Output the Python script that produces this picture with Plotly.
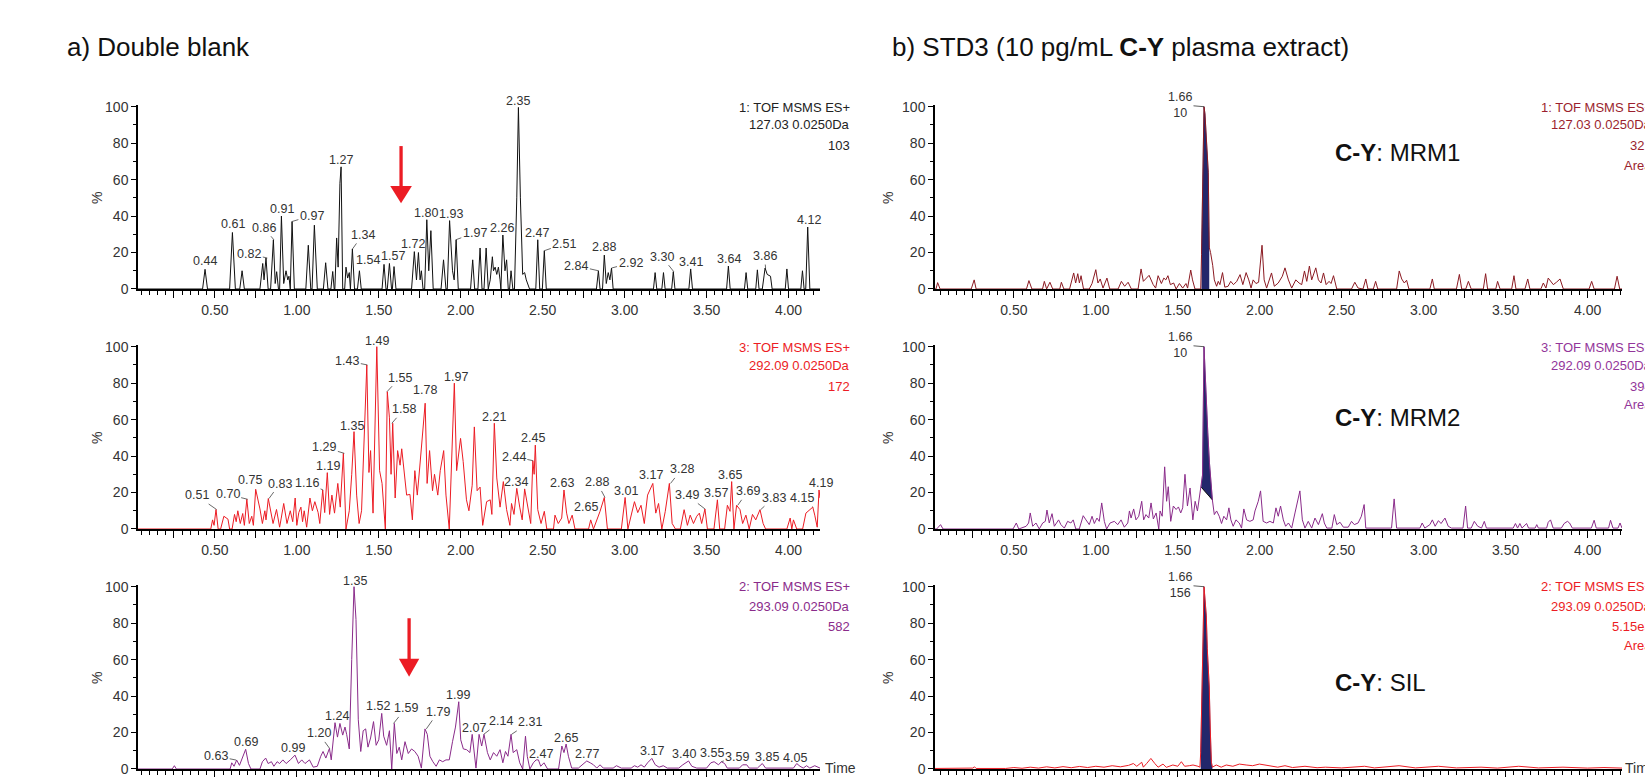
import plotly.graph_objects as go

W, H = 1645, 777

# ---------------- data (time [min], intensity [%]) ----------------
a1_pts = [(0.031,0),(0.425,0),(0.44,10.8),(0.455,0),(0.59,0),(0.607,31),(0.625,0),(0.652,0),(0.666,10),(0.68,0),
 (0.775,0),(0.792,14),(0.80,5),(0.812,17),(0.825,0),(0.84,0),(0.857,27),(0.868,3),(0.877,9.5),(0.888,0),(0.895,0),
 (0.906,40),(0.92,3),(0.934,10),(0.945,5),(0.952,7),(0.96,0),(0.971,37),(0.985,0),(1.055,0),(1.07,24),(1.085,0),
 (1.093,0),(1.107,35),(1.125,0),(1.162,0),(1.176,14.4),(1.19,0),(1.208,0),(1.219,9.6),(1.228,0),(1.232,0),(1.243,28),
 (1.252,12),(1.263,58),(1.27,67),(1.28,0),(1.292,0),(1.30,12),(1.31,6),(1.32,9),(1.327,0),(1.339,22),(1.352,0),
 (1.37,0),(1.382,10),(1.393,0),(1.52,0),(1.532,13.5),(1.544,0),(1.552,0),(1.565,14),(1.578,0),(1.583,0),(1.593,12.3),
 (1.605,0),(1.70,0),(1.717,20.5),(1.73,5),(1.742,20),(1.752,5),(1.76,10),(1.77,0),(1.78,0),(1.793,38),(1.805,10),
 (1.818,32),(1.832,0),(1.88,0),(1.895,16),(1.91,0),(1.918,0),(1.932,37.5),(1.95,10),(1.96,5),(1.972,27),(1.985,0),
 (2.06,0),(2.073,16),(2.085,0),(2.105,0),(2.118,22.5),(2.13,0),(2.142,0),(2.155,22.5),(2.168,0),(2.18,5),(2.193,17.7),
 (2.20,10),(2.21,12),(2.22,8),(2.23,12),(2.24,5),(2.245,0),(2.257,29.6),(2.27,10),(2.28,16),(2.29,0),(2.298,0),
 (2.307,10),(2.318,0),(2.328,0),(2.342,50),(2.352,99.6),(2.364,50),(2.378,8),(2.39,9),(2.40,5),(2.42,0),(2.458,0),
 (2.47,27),(2.482,0),(2.498,0),(2.51,21),(2.522,0),(2.828,0),(2.84,10),(2.85,0),(2.865,0),(2.876,18.6),(2.888,3),
 (2.90,9),(2.91,5),(2.92,11.5),(2.93,0),(3.176,0),(3.186,9),(3.196,0),(3.227,0),(3.237,9),(3.247,0),(3.287,0),
 (3.297,9.5),(3.307,0),(3.392,0),(3.403,11),(3.414,0),(3.622,0),(3.633,12.6),(3.644,0),(3.731,0),(3.741,9),(3.751,0),
 (3.80,0),(3.81,10.5),(3.82,0),(3.84,0),(3.857,11.5),(3.87,8),(3.89,7),(3.90,0),(3.98,0),(3.99,11),(4.00,0),
 (4.075,0),(4.085,10),(4.095,0),(4.105,0),(4.117,34),(4.13,0),(4.192,0)]

a3_pts = [(0.031,0),(0.475,0),(0.486,5),(0.495,2),(0.507,10.7),(0.52,0),(0.535,0),(0.555,7),(0.58,5.4),(0.59,0),
 (0.605,0),(0.62,8),(0.63,4),(0.64,10),(0.655,3),(0.67,8.5),(0.68,2),(0.695,16.3),(0.71,3),(0.725,7),(0.735,2),
 (0.749,21.8),(0.775,11),(0.79,3),(0.805,10),(0.812,5),(0.826,16.7),(0.845,7.6),(0.855,3),(0.876,10.7),(0.895,1),
 (0.905,6),(0.92,14),(0.94,3),(0.96,10),(0.975,4),(0.99,17),(1.0,2),(1.012,9),(1.025,12),(1.035,4),(1.045,10),
 (1.06,1),(1.08,17),(1.095,10),(1.11,15),(1.13,9),(1.14,3),(1.158,21.4),(1.17,9),(1.186,30.9),(1.20,8),(1.214,18.6),
 (1.23,8.7),(1.25,25),(1.265,12),(1.284,41.5),(1.30,0),(1.32,10),(1.335,30),(1.349,53.4),(1.365,18.6),(1.38,3),
 (1.395,10),(1.41,48),(1.427,90),(1.44,31),(1.45,43),(1.465,8.7),(1.488,100),(1.505,32),(1.52,25),(1.54,0),
 (1.552,75.3),(1.565,61),(1.575,30),(1.585,58),(1.60,17),(1.615,43),(1.63,35),(1.64,44),(1.655,32),(1.67,18.6),
 (1.69,19),(1.705,5),(1.72,32),(1.735,18.6),(1.75,34),(1.768,54),(1.783,69),(1.795,25),(1.81,43),(1.828,21),
 (1.84,30),(1.86,18.6),(1.875,32),(1.896,43),(1.91,18.6),(1.93,0),(1.961,80),(1.975,32),(1.999,49.7),(2.015,37),
 (2.035,16),(2.05,10),(2.07,24),(2.083,56),(2.10,21),(2.118,23),(2.134,2),(2.158,15),(2.18,16),(2.19,8),(2.205,58),
 (2.22,28),(2.24,12),(2.26,26),(2.28,10.6),(2.30,2),(2.31,14),(2.325,8),(2.342,22.3),(2.36,12),(2.375,5),(2.39,22),
 (2.41,10.6),(2.427,3),(2.44,37.5),(2.448,30),(2.455,46),(2.47,10.6),(2.49,3),(2.51,9.7),(2.525,0),(2.566,0),
 (2.575,7.6),(2.595,3),(2.616,6),(2.63,21.4),(2.646,8.7),(2.66,3),(2.68,7.6),(2.697,0),(2.78,0),(2.793,5),(2.81,0),
 (2.833,5),(2.85,9.7),(2.876,17.3),(2.895,0),(2.98,0),(3.003,17.3),(3.02,0),(3.04,7.6),(3.06,15),(3.08,9),(3.10,13),
 (3.12,3),(3.14,18.6),(3.172,25),(3.19,8.7),(3.207,14),(3.227,0),(3.248,9.7),(3.273,25),(3.29,3),(3.31,0),(3.34,0),
 (3.363,10.6),(3.383,2),(3.40,7.6),(3.42,3),(3.44,7),(3.456,8.7),(3.47,3),(3.49,11),(3.505,0),(3.545,0),(3.566,16),
 (3.58,0),(3.61,0),(3.627,13),(3.643,9.7),(3.653,26),(3.667,0),(3.683,13),(3.704,10.6),(3.72,3),(3.74,7.6),(3.76,0),
 (3.78,8),(3.80,5),(3.826,10.6),(3.845,3),(3.86,0),(3.99,0),(4.01,6),(4.02,0),(4.03,5),(4.05,0),(4.086,0),
 (4.106,8.7),(4.127,10.6),(4.148,12),(4.16,7.6),(4.175,1),(4.186,21.4),(4.192,17)]

a2_pts = [(0.031,0),(0.24,0),(0.253,1.8),(0.265,0),(0.593,0),(0.603,3.4),(0.617,1.5),(0.633,4.9),(0.65,2),(0.668,6),
 (0.688,10.8),(0.705,3),(0.72,0),(0.775,0),(0.79,4),(0.81,6),(0.825,3),(0.845,4),(0.86,1.5),(0.88,4),(0.895,3),
 (0.915,5),(0.935,3),(0.96,5),(0.989,7.6),(1.01,3),(1.03,5),(1.05,3),(1.077,5),(1.10,1),(1.125,1.5),(1.146,7),
 (1.16,9.6),(1.177,6),(1.199,11.3),(1.21,5),(1.233,25.4),(1.248,17.5),(1.263,25),(1.28,18.6),(1.294,23),(1.304,19),
 (1.32,11),(1.335,60),(1.349,100),(1.361,82),(1.375,27),(1.39,9.6),(1.405,21),(1.42,22),(1.434,12),(1.45,17),
 (1.468,26),(1.484,13),(1.50,16),(1.518,30.5),(1.53,18),(1.548,13),(1.565,21),(1.579,0),(1.595,25),(1.61,8.5),
 (1.625,12),(1.64,5),(1.66,15),(1.68,8.5),(1.70,11),(1.72,9.6),(1.74,7),(1.76,0.5),(1.782,22),(1.796,19),(1.812,7),
 (1.83,4),(1.85,1.5),(1.87,5),(1.89,4),(1.91,5),(1.93,5),(1.95,15),(1.968,23),(1.988,36.9),(2.0,16),(2.016,11),
 (2.036,10.6),(2.056,9),(2.07,19),(2.093,0.5),(2.112,19),(2.128,12.6),(2.142,19),(2.163,9),(2.18,5),(2.20,9),
 (2.22,7),(2.24,10.6),(2.257,3.4),(2.273,9.6),(2.288,7),(2.307,19),(2.32,9),(2.342,10.6),(2.36,3.4),(2.378,0),
 (2.395,18),(2.406,7),(2.422,0),(2.443,3.4),(2.46,5),(2.474,5),(2.488,1.5),(2.508,3.4),(2.53,0),(2.597,0),
 (2.617,12.6),(2.63,9),(2.643,13.7),(2.657,7),(2.677,0.5),(2.718,0.5),(2.744,2.3),(2.769,4.4),(2.79,3.4),(2.81,2.3),
 (2.83,0.5),(2.85,2.3),(2.87,0.5),(2.93,0.5),(2.95,1.8),(2.98,0.5),(3.04,0.5),(3.06,1.8),(3.08,1),(3.10,2.3),
 (3.12,1),(3.14,3.4),(3.166,5.8),(3.187,2.3),(3.21,1),(3.236,1.8),(3.26,0.5),(3.33,0.5),(3.355,2.3),(3.39,4.4),
 (3.41,1.5),(3.44,0.5),(3.50,0.5),(3.526,3.4),(3.546,4),(3.573,2.3),(3.59,4),(3.61,3),(3.626,0.5),(3.70,0.5),
 (3.72,2.3),(3.745,2.3),(3.76,0.5),(3.81,0.5),(3.84,3),(3.86,0.5),(4.03,0.5),(4.05,3),(4.07,1.5),(4.09,0.5),
 (4.11,1.8),(4.13,0.5),(4.16,1.8),(4.192,0.5)]

b1_pts = [(0.019,0),(0.025,0),(0.035,3.5),(0.05,0),(0.24,0),(0.258,5),(0.27,0),(0.577,0),(0.592,4.6),(0.61,0),
 (0.675,0),(0.686,4.2),(0.70,0),(0.72,3.7),(0.737,0),(0.78,0),(0.79,3.7),(0.805,0),(0.84,0),(0.865,8.8),(0.877,3.3),
 (0.89,8.4),(0.90,3.3),(0.91,7.3),(0.925,0),(0.96,0),(0.977,3),(1.0,10.6),(1.013,3.3),(1.027,5.5),(1.044,0.5),
 (1.068,6),(1.085,0),(1.136,0),(1.156,4.2),(1.176,1.5),(1.197,3.7),(1.217,0),(1.258,0),(1.276,11),(1.29,4.2),
 (1.325,7.5),(1.35,2.4),(1.365,0.5),(1.38,7.3),(1.40,3),(1.415,6),(1.427,5),(1.44,7.3),(1.455,2.4),(1.475,3.3),
 (1.49,0),(1.51,3),(1.53,0.5),(1.55,3),(1.56,0.5),(1.579,10.4),(1.59,5),(1.605,0),(1.64,0),(1.645,19),(1.652,67),
 (1.66,100),(1.666,96),(1.672,88),(1.68,76),(1.686,64),(1.692,23),(1.70,20),(1.713,13),(1.723,5),(1.737,1.5),
 (1.747,4.2),(1.757,2.4),(1.773,9),(1.787,1),(1.807,1.5),(1.823,4.2),(1.84,2.4),(1.86,4.2),(1.88,7.9),(1.897,2.4),
 (1.917,9),(1.933,5),(1.947,0.5),(1.96,5),(1.977,3),(1.993,3.7),(2.014,24),(2.027,5),(2.042,0.5),(2.072,8.8),
 (2.089,1.5),(2.113,3.3),(2.138,7),(2.154,11.6),(2.175,5),(2.195,0.5),(2.22,5),(2.24,3.3),(2.256,2.4),(2.273,9.9),
 (2.287,4.2),(2.303,12.6),(2.317,5),(2.342,11.6),(2.358,5),(2.374,3.3),(2.389,8.8),(2.405,2.4),(2.423,4.2),(2.435,3),
 (2.45,7.3),(2.47,0),(2.56,0),(2.58,3.7),(2.60,0.5),(2.63,0),(2.647,5.5),(2.66,0),(2.693,0),(2.707,4.2),(2.72,0),
 (2.835,0),(2.851,9.9),(2.866,5.5),(2.882,3.3),(2.896,4.8),(2.91,0),(3.038,0),(3.053,5.5),(3.065,0),(3.20,0),
 (3.218,8),(3.232,0),(3.257,0),(3.273,4.2),(3.29,0),(3.364,0),(3.378,8.4),(3.39,0),(3.44,0),(3.451,4.2),(3.466,0),
 (3.537,0),(3.551,7.3),(3.563,0),(3.618,0),(3.635,5.5),(3.648,0),(3.715,0),(3.73,3.3),(3.746,0.5),(3.76,6),
 (3.777,4.2),(3.791,2.4),(3.81,3.7),(3.832,5.5),(3.852,0),(4.009,0),(4.025,4.2),(4.04,0),(4.164,0),(4.18,7),
 (4.196,0),(4.21,0)]

b3_pts = [(0.019,0),(0.029,0),(0.053,2.4),(0.068,0),(0.495,0),(0.515,3.3),(0.53,0),(0.575,1.5),(0.59,3.3),(0.60,8.8),
 (0.615,1.5),(0.635,3.3),(0.655,0),(0.676,3.3),(0.692,4.2),(0.702,10.4),(0.716,3.3),(0.733,8.4),(0.747,1.5),
 (0.773,5),(0.787,2.4),(0.808,0.5),(0.828,4.2),(0.848,3.3),(0.862,5),(0.878,0),(0.899,0),(0.923,7.3),(0.94,5),
 (0.96,2.4),(0.977,7),(0.991,3),(1.007,6),(1.021,4.2),(1.036,14.3),(1.052,4.2),(1.066,0),(1.087,3.3),(1.113,4.2),
 (1.134,2.4),(1.154,5),(1.174,1),(1.195,3.3),(1.205,9.9),(1.215,6),(1.231,11),(1.245,5),(1.262,7),(1.28,15.2),
 (1.292,5),(1.306,7.9),(1.323,6),(1.337,14.3),(1.351,5.5),(1.368,8.8),(1.384,0),(1.392,9.9),(1.405,7),(1.42,34.1),
 (1.432,15.2),(1.442,23.2),(1.457,4.2),(1.473,12.6),(1.49,10.7),(1.504,12.1),(1.518,8.8),(1.53,11.6),(1.544,30),
 (1.559,12.6),(1.575,22.5),(1.592,5),(1.606,15.2),(1.62,9.9),(1.633,18.6),(1.643,23),(1.651,29.6),(1.66,100),
 (1.665,88),(1.673,69),(1.683,53),(1.693,36.6),(1.703,21.9),(1.711,16),(1.723,7.9),(1.737,9.9),(1.753,7),(1.767,3),
 (1.781,7),(1.798,5),(1.812,11.6),(1.824,5),(1.838,1.5),(1.855,5),(1.875,3.3),(1.889,0.5),(1.903,11),(1.92,5),
 (1.94,4.2),(1.96,5),(1.971,9.9),(1.991,15.2),(2.005,20.9),(2.021,4.2),(2.042,3.3),(2.062,4.2),(2.083,3.3),
 (2.099,11.6),(2.113,7),(2.127,12.6),(2.144,5),(2.158,1.5),(2.175,3.3),(2.195,0.5),(2.215,8.8),(2.231,16),
 (2.245,20.9),(2.26,5),(2.276,0.5),(2.296,4.2),(2.317,0.5),(2.337,6),(2.358,2.4),(2.382,8.4),(2.394,3.3),
 (2.409,0.5),(2.44,0.5),(2.455,7.9),(2.47,2.4),(2.49,3.7),(2.51,1),(2.54,1),(2.56,4.2),(2.577,2.4),(2.60,3.3),
 (2.62,7),(2.637,13.4),(2.647,0.5),(2.804,0.5),(2.82,16.5),(2.835,0.5),(2.977,0.5),(2.991,3.3),(3.007,0.5),
 (3.038,2.4),(3.053,5),(3.07,1.5),(3.09,4.6),(3.106,3),(3.13,6),(3.15,1.5),(3.17,0.5),(3.24,0.5),(3.256,12.6),
 (3.268,0.5),(3.29,0.5),(3.309,4.2),(3.33,1.5),(3.353,0.5),(3.37,4.2),(3.383,0.5),(3.546,0.5),(3.56,3),(3.573,0.5),
 (3.587,3),(3.60,0.5),(3.628,3),(3.64,0.5),(3.68,0.5),(3.69,2.4),(3.70,0.5),(3.75,0.5),(3.76,3.7),(3.774,5),
 (3.79,0.5),(3.84,0.5),(3.857,3),(3.877,4.2),(3.89,3.3),(3.907,0.5),(4.023,0.5),(4.04,4.8),(4.053,0.5),(4.128,0.5),
 (4.14,4.8),(4.155,0.5),(4.186,0.5),(4.198,3.3),(4.21,0.5)]
b3_drop_baseline = [(1.643,23),(1.711,16)]

b2_pts = [(0.019,0.3),(0.10,0.3),(0.25,0.5),(0.26,1.2),(0.27,0.3),(0.45,0.3),(0.50,0.8),(0.55,0.4),(0.60,1.0),
 (0.65,0.5),(0.70,1.2),(0.75,0.6),(0.80,1.3),(0.85,0.7),(0.90,1.4),(0.95,0.8),(1.0,1.5),(1.05,1.0),(1.10,1.8),
 (1.15,1.2),(1.20,2.0),(1.229,3),(1.25,1.5),(1.28,3.7),(1.29,1),(1.31,3),(1.336,5.8),(1.36,3),(1.38,1),(1.41,2.7),
 (1.43,0.9),(1.47,2.2),(1.50,1.5),(1.522,4),(1.542,1.5),(1.57,1.8),(1.593,2.2),(1.623,1.5),(1.635,1),(1.64,9.3),
 (1.647,33),(1.655,75),(1.66,100),(1.666,94),(1.674,84),(1.68,66),(1.686,55),(1.692,45),(1.698,22.5),(1.705,3.7),
 (1.711,1),(1.735,2.2),(1.765,1),(1.796,2.2),(1.836,1.5),(1.876,2.7),(1.917,2.2),(1.957,1.8),(1.998,2.7),(2.04,2.2),
 (2.07,1.8),(2.11,1.0),(2.154,1.8),(2.20,0.8),(2.276,1.5),(2.35,0.7),(2.40,1.0),(2.50,0.6),(2.64,1.5),(2.70,0.6),
 (2.85,1.8),(2.95,0.6),(3.09,1.5),(3.20,0.6),(3.35,1.0),(3.45,0.5),(3.58,1.5),(3.70,0.6),(3.85,1.0),(4.00,0.5),
 (4.10,0.8),(4.21,0.5)]

# integrated-peak windows (min)
b1_area_window = (1.644, 1.692)
b3_area_window = (1.643, 1.711)
b2_area_window = (1.638, 1.711)

# peak labels: (text, apex %, dx px, dy px, leader line)
a1_labels = [("0.44",10.8,0,-8,False),("0.61",31,0,-8,False),("0.82",17,-18,-4,True),("0.86",27,-10,-12,True),
 ("0.91",40,0,-7,False),("0.97",37,20,-6,True),("1.27",67,0,-7,False),("1.34",22,10,-14,True),("1.54",13.5,-17,-4,False),
 ("1.57",14,3,-7,False),("1.72",20.5,-2,-8,False),("1.80",38,-2,-7,False),("1.93",37.5,2,-7,False),("1.97",27,19,-7,True),
 ("2.26",29.6,-1,-7,False),("2.35",99.6,0,-6,False),("2.47",27,-1,-7,False),("2.51",21,20,-7,True),("2.84",10,-22,-5,True),
 ("2.88",18.6,-1,-8,False),("2.92",11.5,19,-5,True),("3.30",9.5,-12,-15,True),("3.41",11,-1,-7,False),("3.64",12.6,-1,-7,False),
 ("3.86",11.5,-1,-12,True),("4.12",34,1,-7,False)]
a3_labels = [("0.51",10.7,-20,-14,True),("0.70",16.3,-20,-5,True),("0.75",21.8,-6,-9,False),("0.83",16.7,11,-15,True),
 ("1.16",21.4,-16,-7,True),("1.19",30.9,0,-7,False),("1.29",41.5,-20,-6,True),("1.35",53.4,-2,-6,False),("1.43",90,-20,-4,True),
 ("1.49",100,0,-6,False),("1.55",75.3,13,-14,True),("1.58",58,12,-14,True),("1.78",69,0,-13,False),("1.97",80,0,-6,False),
 ("2.21",58,-1,-6,False),("2.34",22.3,0,-6,False),("2.44",37.5,-19,-4,True),("2.45",46,-1,-7,False),("2.63",21.4,-2,-7,False),
 ("2.65",8.7,19,-6,False),("2.88",17.3,-8,-15,True),("3.01",17.3,0,-6,False),("3.17",25,-1,-8,False),("3.28",25,11,-14,True),
 ("3.49",11,-18,-14,True),("3.57",16,-2,-7,False),("3.65",26,-1,-7,False),("3.69",13,10,-14,True),("3.83",10.6,13,-12,True),
 ("4.15",12,-11,-9,True),("4.19",21.4,1,-7,False)]
a2_labels = [("0.63",4.9,-20,-4,True),("0.69",10.8,0,-7,False),("0.99",7.6,-2,-7,False),("1.20",11.3,-11,-15,True),
 ("1.24",25.4,1,-7,False),("1.35",100,1,-6,False),("1.52",30.5,-4,-7,False),("1.59",25,12,-15,True),("1.79",22,12,-17,True),
 ("1.99",36.9,-1,-7,False),("2.07",19,2,-6,False),("2.14",19,17,-13,True),("2.31",19,18,-12,True),("2.47",5,3,-6,False),
 ("2.65",13.7,-1,-6,False),("2.77",4.4,0,-7,False),("3.17",5.8,0,-7,False),("3.40",4.4,-6,-7,False),("3.55",4,-3,-9,False),
 ("3.59",4,16,-5,True),("3.85",3,3,-7,False),("4.05",3,-2,-6,False)]
b_apex = [("1.66", "10", 100), ("1.66", "10", 100), ("1.66", "156", 100)]

info_lines = {
    "a1": ["1: TOF MSMS ES+", "127.03 0.0250Da", "103"],
    "a3": ["3: TOF MSMS ES+", "292.09 0.0250Da", "172"],
    "a2": ["2: TOF MSMS ES+", "293.09 0.0250Da", "582"],
    "b1": ["1: TOF MSMS ES+", "127.03 0.0250Da", "321", "Area"],
    "b3": ["3: TOF MSMS ES+", "292.09 0.0250Da", "394", "Area"],
    "b2": ["2: TOF MSMS ES+", "293.09 0.0250Da", "5.15e3", "Area"],
}
channel_names = ["MRM1", "MRM2", "SIL"]

# red arrows: (time, shaft top %, head base %, tip %, half head width min) on panel a1 and a2
arrows = {1: (1.636, 78.4, 56.5, 47.0, 0.066), 3: (1.685, 82.7, 60.5, 50.6, 0.062)}

# ---------------- styling / layout ----------------
PX_PER_PCT = 1.823
YMAX = 101
ROW_ZERO = [289, 529, 769]
COLS = [(138, 820, [0.031, 4.192]), (935, 1622, [0.019, 4.210])]
FONT = "Liberation Sans, Arial, sans-serif"
NARROW = "Liberation Sans Narrow, Arial Narrow, Liberation Sans, Arial, sans-serif"
NAVY = "#23276b"
RED = "#ec1c24"
PURPLE = "#8a2b8a"
DARKRED = "#8b1a22"

panels = [
    # idx, col, row, pts, line color, info key, info color, labels
    (1, 0, 0, a1_pts, "#111111", "a1", "#222222", a1_labels),
    (2, 0, 1, a3_pts, RED, "a3", RED, a3_labels),
    (3, 0, 2, a2_pts, PURPLE, "a2", PURPLE, a2_labels),
    (4, 1, 0, b1_pts, DARKRED, "b1", "#9b1f2e", None),
    (5, 1, 1, b3_pts, PURPLE, "b3", "#93359a", None),
    (6, 1, 2, b2_pts, RED, "b2", RED, None),
]
info_y = {0: [107, 125, 145, 166], 1: [347, 366, 386, 404], 2: [586, 606, 626, 645]}


def unzip(pts):
    return [p[0] for p in pts], [p[1] for p in pts]


def ax_names(i):
    s = "" if i == 1 else str(i)
    return "x" + s, "y" + s, "xaxis" + s, "yaxis" + s


xtickvals = [0.25 * k for k in range(1, 17)]
xticktext = [("%.2f" % v) if (k % 2 == 0) else "" for k, v in zip(range(1, 17), xtickvals)]

fig = go.Figure()
layout = dict(template="none", width=W, height=H, margin=dict(l=0, r=0, t=0, b=0, autoexpand=False),
              paper_bgcolor="white", plot_bgcolor="white", showlegend=False,
              font=dict(family=FONT, color="#333333"))
annotations = []
shapes = []

for idx, col, row, pts, color, key, icolor, labels in panels:
    xr, yr, xk, yk = ax_names(idx)
    x0, x1, rng = COLS[col]
    z = ROW_ZERO[row]
    layout[xk] = dict(domain=[x0 / W, x1 / W], range=rng, anchor=yr, automargin=False, showline=True,
                      linecolor="#000", linewidth=2, ticks="outside", ticklen=7, tickwidth=1, tickcolor="#000",
                      tickmode="array", tickvals=xtickvals, ticktext=xticktext,
                      showticklabels=(row != 2),
                      tickfont=dict(size=14, color="#333", family=FONT),
                      minor=dict(tickmode="linear", tick0=0, dtick=0.05, ticks="outside", ticklen=4,
                                 tickwidth=1, tickcolor="#000", showgrid=False),
                      showgrid=False, zeroline=False, fixedrange=True)
    layout[yk] = dict(domain=[1 - z / H, 1 - (z - YMAX * PX_PER_PCT) / H], range=[0, YMAX], anchor=xr,
                      automargin=False, showline=True, linecolor="#000", linewidth=1.5, ticks="outside",
                      ticklen=5, tickwidth=1, tickcolor="#000", tickmode="array",
                      tickvals=[0, 20, 40, 60, 80, 100],
                      tickfont=dict(size=14, color="#333", family=FONT),
                      minor=dict(tickmode="linear", tick0=0, dtick=10, ticks="outside", ticklen=3,
                                 tickwidth=1, tickcolor="#000", showgrid=False),
                      showgrid=False, zeroline=False, fixedrange=True)

    t, y = unzip(pts)
    # integrated area fill (right panels)
    if idx == 4 or idx == 6:
        lo, hi = b1_area_window if idx == 4 else b2_area_window
        ft, fy = unzip([p for p in pts if lo <= p[0] <= hi])
        fig.add_trace(go.Scatter(x=ft, y=fy, mode="lines", fill="tozeroy", fillcolor=NAVY,
                                 line=dict(color=NAVY, width=0.5), xaxis=xr, yaxis=yr, hoverinfo="skip"))
    if idx == 5:
        lo, hi = b3_area_window
        poly = [p for p in pts if lo <= p[0] <= hi] + list(reversed(b3_drop_baseline))
        ft, fy = unzip(poly)
        fig.add_trace(go.Scatter(x=ft, y=fy, mode="lines", fill="toself", fillcolor=NAVY,
                                 line=dict(color=NAVY, width=0.5), xaxis=xr, yaxis=yr, hoverinfo="skip"))
        bt, by = unzip(b3_drop_baseline)
        fig.add_trace(go.Scatter(x=bt, y=by, mode="lines", line=dict(color="#111", width=1),
                                 xaxis=xr, yaxis=yr, hoverinfo="skip"))
    fig.add_trace(go.Scatter(x=t, y=y, mode="lines", line=dict(color=color, width=1),
                             xaxis=xr, yaxis=yr, hoverinfo="skip"))

    # y axis title "%"
    pct_x = 97 if col == 0 else 888
    annotations.append(dict(xref="paper", yref="paper", x=pct_x / W, y=1 - (z - 91) / H, text="%",
                            showarrow=False, textangle=-90, font=dict(size=14, color="#333", family=FONT),
                            xanchor="center", yanchor="middle"))
    # channel info text (right aligned)
    right_px = 852 if col == 0 else 1654
    for k, line in enumerate(info_lines[key]):
        annotations.append(dict(xref="paper", yref="paper", x=right_px / W, y=1 - info_y[row][k] / H,
                                text=line, showarrow=False, xanchor="right", yanchor="middle",
                                font=dict(size=13, color=icolor, family=FONT)))
    # peak labels
    if labels:
        for text, h, dx, dy, leader in labels:
            base = dict(xref=xr, yref=yr, x=float(text), y=h, text=text,
                        font=dict(size=12.5, color="#333", family=NARROW))
            if leader:
                base.update(showarrow=True, arrowhead=0, arrowwidth=0.8, arrowcolor="#444",
                            ax=dx, ay=dy, standoff=0, xanchor="center", yanchor="middle")
            else:
                base.update(showarrow=False, xshift=dx, yshift=-dy, xanchor="center", yanchor="middle")
            annotations.append(base)
    else:
        rt, area, ap = b_apex[row]
        annotations.append(dict(xref=xr, yref=yr, x=float(rt), y=ap, text=rt + "<br>" + area,
                                showarrow=True, arrowhead=0, arrowwidth=0.8, arrowcolor="#333",
                                ax=-24, ay=-2, standoff=0, align="center",
                                font=dict(size=12.5, color="#333", family=NARROW)))
        # channel name label
        cy = [152, 418, 682][row]
        annotations.append(dict(xref="paper", yref="paper", x=1333 / W, y=1 - cy / H,
                                text="<b>C-Y</b>: " + channel_names[row], showarrow=False,
                                xanchor="left", yanchor="middle",
                                font=dict(size=24, color="#111", family=FONT)))
    # red arrows
    if idx in arrows:
        at, top, hb, tip, hw = arrows[idx]
        shapes.append(dict(type="line", xref=xr, yref=yr, x0=at, x1=at, y0=top, y1=hb - 1,
                           line=dict(color=RED, width=3.3)))
        shapes.append(dict(type="path", xref=xr, yref=yr,
                           path=f"M {at - hw},{hb} L {at + hw},{hb} L {at},{tip} Z",
                           fillcolor=RED, line=dict(width=0)))

# "Time" labels at end of bottom axes
for tx in (823, 1623):
    annotations.append(dict(xref="paper", yref="paper", x=tx / W, y=1 - 768 / H, text="Time",
                            showarrow=False, xanchor="left", yanchor="middle",
                            font=dict(size=14, color="#333", family=FONT)))

# panel headers
annotations.append(dict(xref="paper", yref="paper", x=65 / W, y=1 - 47 / H, text="a) Double blank",
                        showarrow=False, xanchor="left", yanchor="middle",
                        font=dict(size=26, color="#111", family=FONT)))
annotations.append(dict(xref="paper", yref="paper", x=890 / W, y=1 - 47 / H,
                        text="b) STD3 (10 pg/mL <b>C-Y</b> plasma extract)",
                        showarrow=False, xanchor="left", yanchor="middle",
                        font=dict(size=26, color="#111", family=FONT)))

layout["annotations"] = annotations
layout["shapes"] = shapes
fig.update_layout(**layout)
fig.write_html("out.html")
